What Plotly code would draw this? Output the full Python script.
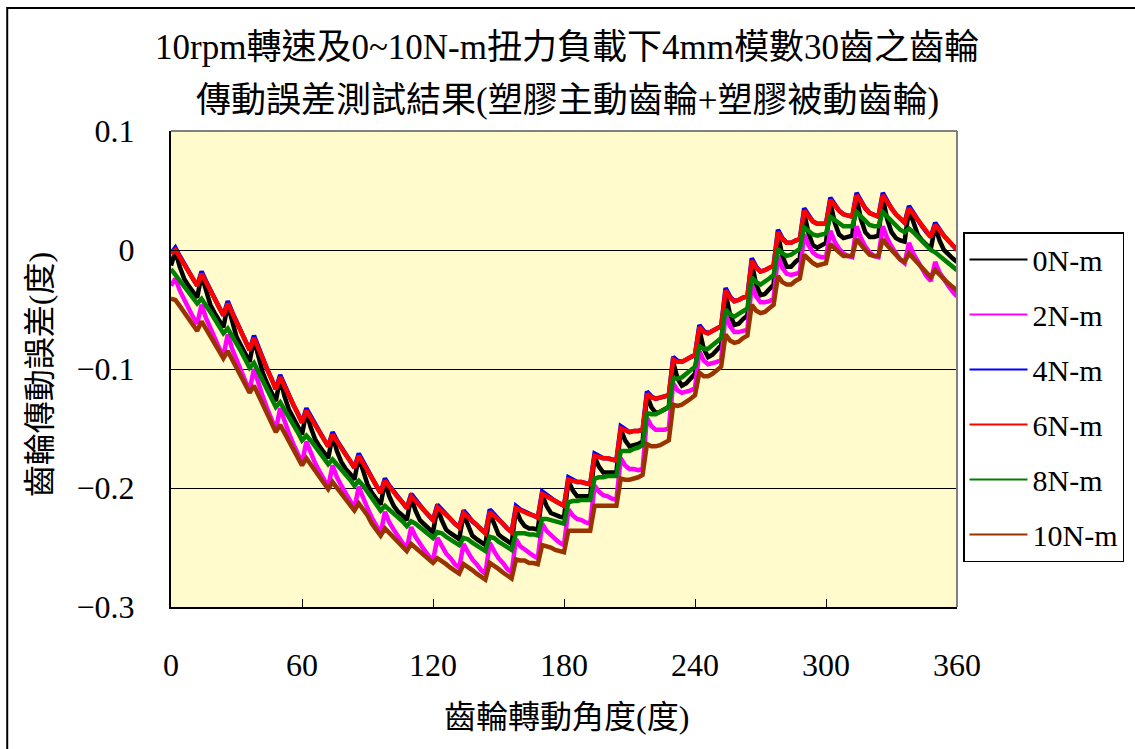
import plotly.graph_objects as go

# Gear rotation angle (deg), sampled every 2 degrees
angle = list(range(0, 361, 2))

# Transmission error (deg) for each torque load
err_0nm = [-0.013,
    -0.001, -0.014, -0.024, -0.030, -0.035, -0.040,
    -0.021, -0.035, -0.046, -0.053, -0.059, -0.065,
    -0.046, -0.061, -0.073, -0.080, -0.087, -0.094,
    -0.075, -0.091, -0.103, -0.112, -0.119, -0.127,
    -0.108, -0.123, -0.134, -0.142, -0.148, -0.155,
    -0.136, -0.149, -0.159, -0.165, -0.170, -0.175,
    -0.156, -0.169, -0.178, -0.184, -0.188, -0.193,
    -0.174, -0.187, -0.197, -0.204, -0.209, -0.214,
    -0.195, -0.207, -0.215, -0.220, -0.223, -0.227,
    -0.208, -0.219, -0.227, -0.231, -0.234, -0.237,
    -0.217, -0.227, -0.235, -0.238, -0.241, -0.243,
    -0.222, -0.232, -0.240, -0.243, -0.246, -0.248,
    -0.221, -0.231, -0.239, -0.242, -0.245, -0.247,
    -0.218, -0.227, -0.232, -0.234, -0.234, -0.235,
    -0.206, -0.215, -0.221, -0.223, -0.224, -0.225,
    -0.194, -0.202, -0.207, -0.207, -0.207, -0.207,
    -0.174, -0.182, -0.187, -0.187, -0.187, -0.187,
    -0.151, -0.160, -0.165, -0.164, -0.163, -0.161,
    -0.122, -0.132, -0.137, -0.136, -0.134, -0.132,
    -0.094, -0.108, -0.114, -0.112, -0.108, -0.104,
    -0.067, -0.083, -0.090, -0.088, -0.084, -0.080,
    -0.036, -0.054, -0.063, -0.062, -0.058, -0.055,
    -0.011, -0.029, -0.038, -0.037, -0.033, -0.029,
    0.013, -0.005, -0.014, -0.014, -0.010, -0.007,
    0.031, 0.014, 0.004, 0.002, 0.004, 0.006,
    0.040, 0.023, 0.013, 0.010, 0.011, 0.012,
    0.044, 0.026, 0.015, 0.011, 0.011, 0.012,
    0.044, 0.026, 0.015, 0.010, 0.008, 0.007,
    0.034, 0.022, 0.013, 0.008, 0.004, 0.001,
    0.020, 0.008, 0.000, -0.004, -0.007, -0.010]

err_2nm = [-0.030,
    -0.024, -0.034, -0.042, -0.049, -0.056, -0.062,
    -0.046, -0.057, -0.066, -0.074, -0.082, -0.089,
    -0.071, -0.083, -0.093, -0.101, -0.110, -0.118,
    -0.100, -0.113, -0.123, -0.133, -0.142, -0.151,
    -0.133, -0.145, -0.154, -0.163, -0.171, -0.179,
    -0.161, -0.171, -0.179, -0.186, -0.193, -0.199,
    -0.181, -0.191, -0.198, -0.205, -0.211, -0.217,
    -0.199, -0.209, -0.217, -0.225, -0.232, -0.238,
    -0.220, -0.229, -0.235, -0.241, -0.246, -0.251,
    -0.233, -0.241, -0.247, -0.252, -0.257, -0.261,
    -0.242, -0.249, -0.255, -0.259, -0.264, -0.267,
    -0.247, -0.254, -0.260, -0.264, -0.269, -0.272,
    -0.246, -0.253, -0.259, -0.263, -0.268, -0.271,
    -0.243, -0.249, -0.252, -0.255, -0.257, -0.259,
    -0.230, -0.236, -0.240, -0.243, -0.246, -0.248,
    -0.218, -0.223, -0.226, -0.227, -0.229, -0.230,
    -0.198, -0.203, -0.206, -0.207, -0.209, -0.210,
    -0.175, -0.181, -0.184, -0.184, -0.185, -0.184,
    -0.141, -0.148, -0.151, -0.151, -0.151, -0.150,
    -0.112, -0.118, -0.120, -0.119, -0.118, -0.116,
    -0.085, -0.093, -0.096, -0.095, -0.094, -0.092,
    -0.054, -0.064, -0.069, -0.069, -0.068, -0.067,
    -0.029, -0.039, -0.044, -0.044, -0.043, -0.041,
    -0.005, -0.015, -0.020, -0.021, -0.020, -0.019,
    0.013, 0.004, -0.002, -0.005, -0.006, -0.006,
    0.016, 0.007, 0.001, -0.003, -0.005, -0.006,
    0.020, 0.010, 0.003, -0.002, -0.005, -0.006,
    0.020, 0.010, 0.003, -0.003, -0.008, -0.011,
    0.006, -0.003, -0.010, -0.016, -0.022, -0.026,
    -0.010, -0.019, -0.025, -0.030, -0.035, -0.039]

err_4nm = [-0.003,
    0.002, -0.005, -0.012, -0.018, -0.024, -0.030,
    -0.018, -0.026, -0.034, -0.041, -0.048, -0.055,
    -0.043, -0.052, -0.061, -0.068, -0.076, -0.084,
    -0.072, -0.082, -0.091, -0.100, -0.108, -0.117,
    -0.105, -0.114, -0.122, -0.130, -0.137, -0.145,
    -0.133, -0.140, -0.147, -0.153, -0.159, -0.165,
    -0.153, -0.160, -0.166, -0.172, -0.177, -0.183,
    -0.171, -0.178, -0.185, -0.192, -0.198, -0.204,
    -0.192, -0.198, -0.203, -0.208, -0.212, -0.217,
    -0.205, -0.210, -0.215, -0.219, -0.223, -0.227,
    -0.214, -0.218, -0.223, -0.226, -0.230, -0.233,
    -0.219, -0.223, -0.228, -0.231, -0.235, -0.238,
    -0.218, -0.222, -0.227, -0.230, -0.234, -0.237,
    -0.215, -0.218, -0.220, -0.222, -0.223, -0.225,
    -0.203, -0.206, -0.209, -0.211, -0.213, -0.215,
    -0.191, -0.193, -0.195, -0.195, -0.196, -0.197,
    -0.171, -0.173, -0.175, -0.175, -0.176, -0.177,
    -0.148, -0.151, -0.153, -0.152, -0.152, -0.151,
    -0.119, -0.123, -0.125, -0.124, -0.123, -0.122,
    -0.090, -0.093, -0.094, -0.092, -0.090, -0.088,
    -0.063, -0.068, -0.070, -0.068, -0.066, -0.064,
    -0.032, -0.039, -0.043, -0.042, -0.040, -0.039,
    -0.007, -0.014, -0.018, -0.017, -0.015, -0.013,
    0.017, 0.010, 0.006, 0.006, 0.008, 0.009,
    0.035, 0.029, 0.024, 0.022, 0.022, 0.022,
    0.044, 0.038, 0.033, 0.030, 0.029, 0.028,
    0.048, 0.041, 0.035, 0.031, 0.029, 0.028,
    0.048, 0.041, 0.035, 0.030, 0.026, 0.023,
    0.037, 0.031, 0.025, 0.020, 0.015, 0.011,
    0.023, 0.017, 0.012, 0.008, 0.004, 0.000]

err_6nm = [-0.003,
    0.000, -0.006, -0.012, -0.018, -0.024, -0.030,
    -0.020, -0.027, -0.034, -0.041, -0.048, -0.055,
    -0.045, -0.053, -0.061, -0.068, -0.076, -0.084,
    -0.074, -0.083, -0.091, -0.100, -0.108, -0.117,
    -0.107, -0.115, -0.122, -0.130, -0.137, -0.145,
    -0.135, -0.141, -0.147, -0.153, -0.159, -0.165,
    -0.155, -0.161, -0.166, -0.172, -0.177, -0.183,
    -0.173, -0.179, -0.185, -0.192, -0.198, -0.204,
    -0.194, -0.199, -0.203, -0.208, -0.212, -0.217,
    -0.207, -0.211, -0.215, -0.219, -0.223, -0.227,
    -0.216, -0.219, -0.223, -0.226, -0.230, -0.233,
    -0.221, -0.224, -0.228, -0.231, -0.235, -0.238,
    -0.220, -0.223, -0.227, -0.230, -0.234, -0.237,
    -0.217, -0.219, -0.220, -0.222, -0.223, -0.225,
    -0.205, -0.207, -0.209, -0.211, -0.213, -0.215,
    -0.193, -0.194, -0.195, -0.195, -0.196, -0.197,
    -0.173, -0.174, -0.175, -0.175, -0.176, -0.177,
    -0.150, -0.152, -0.153, -0.152, -0.152, -0.151,
    -0.121, -0.124, -0.125, -0.124, -0.123, -0.122,
    -0.092, -0.094, -0.094, -0.092, -0.090, -0.088,
    -0.065, -0.069, -0.070, -0.068, -0.066, -0.064,
    -0.034, -0.040, -0.043, -0.042, -0.040, -0.039,
    -0.009, -0.015, -0.018, -0.017, -0.015, -0.013,
    0.015, 0.009, 0.006, 0.006, 0.008, 0.009,
    0.033, 0.028, 0.024, 0.022, 0.022, 0.022,
    0.042, 0.037, 0.033, 0.030, 0.029, 0.028,
    0.046, 0.040, 0.035, 0.031, 0.029, 0.028,
    0.046, 0.040, 0.035, 0.030, 0.026, 0.023,
    0.035, 0.030, 0.025, 0.020, 0.015, 0.011,
    0.021, 0.016, 0.012, 0.008, 0.004, 0.000]

err_8nm = [-0.016,
    -0.021, -0.025, -0.030, -0.035, -0.040, -0.045,
    -0.041, -0.046, -0.052, -0.058, -0.064, -0.070,
    -0.066, -0.072, -0.079, -0.085, -0.092, -0.099,
    -0.095, -0.102, -0.109, -0.117, -0.124, -0.132,
    -0.128, -0.134, -0.140, -0.147, -0.153, -0.160,
    -0.156, -0.160, -0.165, -0.170, -0.175, -0.180,
    -0.176, -0.180, -0.184, -0.189, -0.193, -0.198,
    -0.194, -0.198, -0.203, -0.209, -0.214, -0.219,
    -0.215, -0.218, -0.221, -0.225, -0.228, -0.232,
    -0.228, -0.230, -0.233, -0.236, -0.239, -0.242,
    -0.237, -0.238, -0.241, -0.243, -0.246, -0.248,
    -0.242, -0.243, -0.246, -0.248, -0.251, -0.253,
    -0.241, -0.242, -0.245, -0.247, -0.250, -0.252,
    -0.238, -0.238, -0.238, -0.239, -0.239, -0.240,
    -0.226, -0.226, -0.227, -0.228, -0.229, -0.230,
    -0.212, -0.211, -0.211, -0.210, -0.210, -0.210,
    -0.192, -0.191, -0.191, -0.190, -0.190, -0.190,
    -0.169, -0.169, -0.169, -0.167, -0.166, -0.164,
    -0.137, -0.138, -0.138, -0.136, -0.134, -0.132,
    -0.108, -0.108, -0.107, -0.104, -0.101, -0.098,
    -0.081, -0.083, -0.083, -0.080, -0.077, -0.074,
    -0.050, -0.054, -0.056, -0.054, -0.051, -0.049,
    -0.023, -0.027, -0.029, -0.027, -0.024, -0.021,
    0.001, -0.003, -0.005, -0.004, -0.001, 0.001,
    0.019, 0.016, 0.013, 0.012, 0.013, 0.014,
    0.028, 0.025, 0.022, 0.020, 0.020, 0.020,
    0.032, 0.028, 0.024, 0.021, 0.020, 0.020,
    0.032, 0.028, 0.024, 0.020, 0.017, 0.015,
    0.018, 0.015, 0.011, 0.007, 0.003, 0.000,
    -0.002, -0.005, -0.008, -0.011, -0.014, -0.017]

err_10nm = [-0.041,
    -0.042, -0.047, -0.052, -0.058, -0.063, -0.068,
    -0.060, -0.066, -0.072, -0.079, -0.085, -0.091,
    -0.085, -0.092, -0.099, -0.106, -0.113, -0.120,
    -0.114, -0.122, -0.129, -0.138, -0.145, -0.153,
    -0.147, -0.154, -0.160, -0.168, -0.174, -0.181,
    -0.175, -0.180, -0.185, -0.191, -0.196, -0.201,
    -0.195, -0.200, -0.204, -0.210, -0.214, -0.219,
    -0.213, -0.218, -0.223, -0.230, -0.235, -0.240,
    -0.234, -0.238, -0.241, -0.246, -0.249, -0.253,
    -0.247, -0.250, -0.253, -0.257, -0.260, -0.263,
    -0.259, -0.261, -0.264, -0.267, -0.270, -0.272,
    -0.264, -0.266, -0.269, -0.272, -0.275, -0.277,
    -0.263, -0.265, -0.268, -0.271, -0.274, -0.276,
    -0.260, -0.261, -0.261, -0.263, -0.263, -0.264,
    -0.248, -0.249, -0.250, -0.252, -0.253, -0.254,
    -0.236, -0.236, -0.236, -0.236, -0.236, -0.236,
    -0.215, -0.215, -0.215, -0.215, -0.215, -0.215,
    -0.192, -0.193, -0.193, -0.192, -0.191, -0.189,
    -0.163, -0.165, -0.165, -0.164, -0.162, -0.160,
    -0.130, -0.131, -0.130, -0.128, -0.125, -0.122,
    -0.103, -0.106, -0.106, -0.104, -0.101, -0.098,
    -0.071, -0.076, -0.078, -0.077, -0.074, -0.072,
    -0.046, -0.051, -0.053, -0.052, -0.049, -0.046,
    -0.022, -0.027, -0.029, -0.029, -0.026, -0.024,
    -0.004, -0.008, -0.011, -0.013, -0.012, -0.011,
    0.005, 0.001, -0.002, -0.005, -0.005, -0.005,
    0.009, 0.004, 0.000, -0.004, -0.005, -0.005,
    0.009, 0.004, 0.000, -0.005, -0.008, -0.010,
    -0.003, -0.007, -0.011, -0.016, -0.020, -0.023,
    -0.017, -0.021, -0.024, -0.028, -0.031, -0.034]

series_names = ["0N-m", "2N-m", "4N-m", "6N-m", "8N-m", "10N-m"]
series_values = [err_0nm, err_2nm, err_4nm, err_6nm, err_8nm, err_10nm]
series_colors = ["#000000", "#FF00FF", "#0000FF", "#FF0000", "#008000", "#993300"]

x_ticks = [0, 60, 120, 180, 240, 300, 360]
y_ticks = [-0.3, -0.2, -0.1, 0, 0.1]
y_ticktext = ["\u22120.3", "\u22120.2", "\u22120.1", "0", "0.1"]

title_line1 = "10rpm轉速及0~10N-m扭力負載下4mm模數30齒之齒輪"
title_line2 = "傳動誤差測試結果(塑膠主動齒輪+塑膠被動齒輪)"
x_title = "齒輪轉動角度(度)"
y_title = "齒輪傳動誤差(度)"

FONT = "Liberation Serif, Noto Sans CJK TC, serif"

fig = go.Figure()

# measured curves (thick, as the raw signal is dense and noisy)
for name, vals, col in zip(series_names, series_values, series_colors):
    fig.add_trace(go.Scatter(
        x=angle, y=vals, mode="lines", name=name,
        line=dict(color=col, width=4.5),
        showlegend=False, legendgroup=name, hoverinfo="skip"))

# legend entries with thin line samples
for name, col in zip(series_names, series_colors):
    fig.add_trace(go.Scatter(
        x=[None], y=[None], mode="lines", name=name,
        line=dict(color=col, width=2), legendgroup=name, showlegend=True))

L, R, T, B = 171, 177, 131, 142
W, H = 1135, 749
pw, ph = W - L - R, H - T - B


def px_x(p):
    return (p - L) / pw


def px_y(p):
    return (H - B - p) / ph


fig.update_layout(
    width=W, height=H, autosize=False,
    margin=dict(l=L, r=R, t=T, b=B, pad=0),
    paper_bgcolor="white",
    plot_bgcolor="#FFFBCC",
    font=dict(family=FONT, size=32, color="black"),
    showlegend=True,
    legend=dict(
        x=px_x(963), y=px_y(232), xanchor="left", yanchor="top",
        bgcolor="white", bordercolor="black", borderwidth=1.5,
        font=dict(family=FONT, size=30, color="black"),
        tracegroupgap=13, itemwidth=58,
        traceorder="grouped",
    ),
    xaxis=dict(
        range=[0, 360], tickmode="array", tickvals=x_ticks,
        ticks="inside", ticklen=8, tickcolor="black", tickwidth=1,
        showgrid=False, zeroline=False,
        showline=True, linecolor="black", linewidth=2,
        ticklabelstandoff=29,
        tickfont=dict(family=FONT, size=32),
    ),
    yaxis=dict(
        range=[-0.3, 0.1], tickmode="array", tickvals=y_ticks, ticktext=y_ticktext,
        ticks="inside", ticklen=8, tickcolor="black", tickwidth=1,
        showgrid=True, gridcolor="black", gridwidth=1,
        zeroline=False,
        showline=True, linecolor="black", linewidth=2,
        ticklabelstandoff=28,
        tickfont=dict(family=FONT, size=32),
    ),
    annotations=[
        dict(text=title_line1, xref="paper", yref="paper", x=px_x(568), y=px_y(48),
             xanchor="center", yanchor="middle", showarrow=False,
             font=dict(family=FONT, size=35, color="black")),
        dict(text=title_line2, xref="paper", yref="paper", x=px_x(568), y=px_y(100),
             xanchor="center", yanchor="middle", showarrow=False,
             font=dict(family=FONT, size=35, color="black")),
        dict(text=x_title, xref="paper", yref="paper", x=px_x(567), y=px_y(717),
             xanchor="center", yanchor="middle", showarrow=False,
             font=dict(family=FONT, size=32, color="black")),
        dict(text=y_title, xref="paper", yref="paper", x=px_x(40), y=px_y(375),
             xanchor="center", yanchor="middle", showarrow=False, textangle=-90,
             font=dict(family=FONT, size=32, color="black")),
    ],
    shapes=[
        # gray top and right edges of the plot area
        dict(type="line", xref="paper", yref="paper", x0=0, x1=1, y0=1, y1=1,
             line=dict(color="#808080", width=2), layer="above"),
        dict(type="line", xref="paper", yref="paper", x0=1, x1=1, y0=0, y1=1,
             line=dict(color="#808080", width=2), layer="above"),
        # outer chart frame
        dict(type="rect", xref="paper", yref="paper",
             x0=px_x(7), x1=px_x(1145), y0=px_y(760), y1=px_y(8),
             line=dict(color="black", width=2), layer="above"),
    ],
)

fig.write_html("out.html")
